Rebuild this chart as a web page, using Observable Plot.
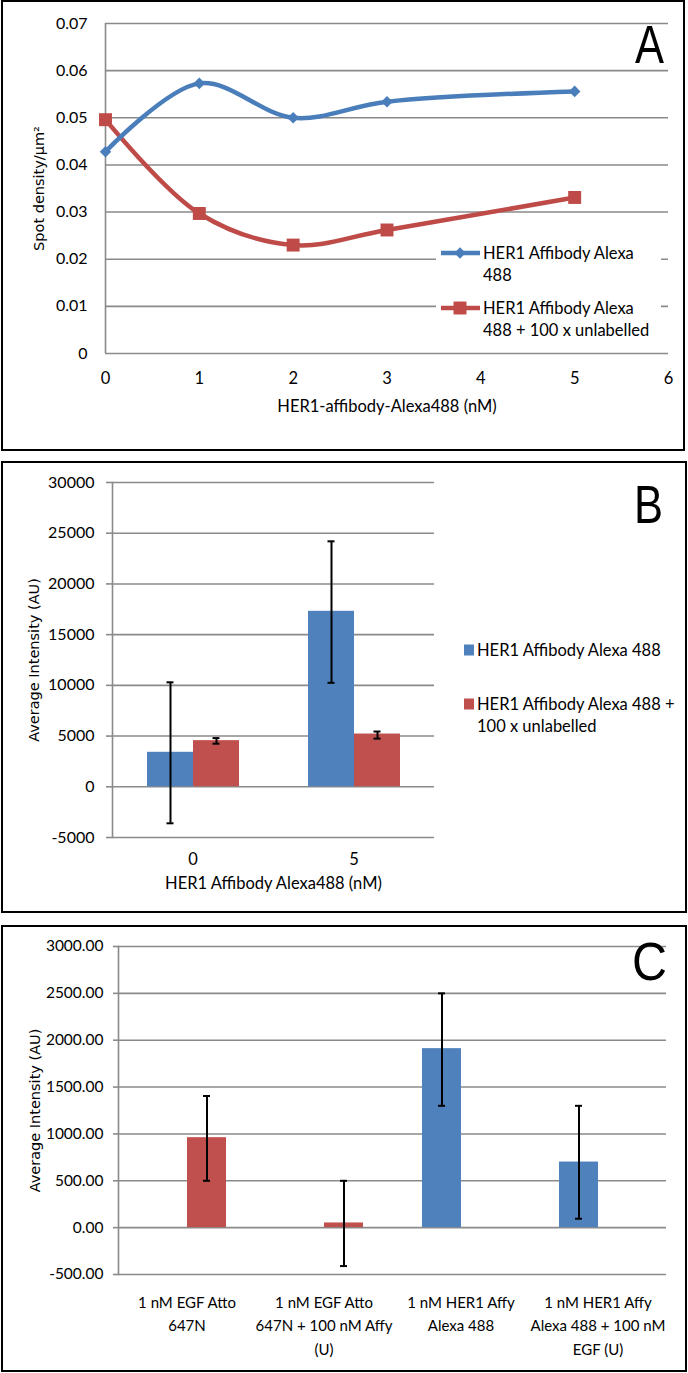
<!DOCTYPE html>
<html>
<head>
<meta charset="utf-8">
<script src="https://cdn.jsdelivr.net/npm/d3@7"></script>
<script src="https://cdn.jsdelivr.net/npm/@observablehq/plot@0.6"></script>
<style>
  html, body { margin: 0; padding: 0; background: #fff; }
  #page { position: relative; width: 688px; height: 1373px; overflow: hidden; font-family: Lato, sans-serif; }
  .plotwrap { position: absolute; left: 0; }
  #overlay { position: absolute; left: 0; top: 0; pointer-events: none; }
  g[aria-label="y-axis label"], g[aria-label="y-axis label"] text { font-family: "DejaVu Sans", sans-serif; font-size: 14.5px; }
</style>
</head>
<body>
<div id="page">
  <div class="plotwrap" id="pa" style="top:0px"></div>
  <div class="plotwrap" id="pb" style="top:462px"></div>
  <div class="plotwrap" id="pc" style="top:926px"></div>
  <svg id="overlay" width="688" height="1373"></svg>
</div>
<script>
// ---------- Panel A data ----------
const aConc = [0, 1, 2, 3, 5];
const aAlexa = [0.0428, 0.0573, 0.0500, 0.0534, 0.0556];
const aUnlab = [0.0496, 0.0297, 0.0230, 0.0262, 0.0331];
const aSeries = ["HER1 Affibody Alexa 488", "HER1 Affibody Alexa 488 + 100 x unlabelled"];
const aYTicks = [0, 0.01, 0.02, 0.03, 0.04, 0.05, 0.06, 0.07];
const aXTicks = [0, 1, 2, 3, 4, 5, 6];

// ---------- Panel B data ----------
const bConc = ["0", "5"];
const bSeries = ["HER1 Affibody Alexa 488", "HER1 Affibody Alexa 488 + 100 x unlabelled"];
const bAlexa = [3400, 17300];
const bAlexaLo = [-3600, 10250];
const bAlexaHi = [10300, 24200];
const bUnlab = [4550, 5200];
const bUnlabLo = [4250, 4750];
const bUnlabHi = [4800, 5450];
const bYTicks = [-5000, 0, 5000, 10000, 15000, 20000, 25000, 30000];

// ---------- Panel C data ----------
const cCats = ["1 nM EGF Atto\n647N", "1 nM EGF Atto\n647N + 100 nM Affy\n(U)", "1 nM HER1 Affy\nAlexa 488", "1 nM HER1 Affy\nAlexa 488 + 100 nM\nEGF (U)"];
const cSeriesNames = ["HER1 Affy Alexa 488", "EGF Atto 647N"];
const cSeries = ["EGF Atto 647N", "EGF Atto 647N", "HER1 Affy Alexa 488", "HER1 Affy Alexa 488"];
const cValues = [960, 50, 1910, 700];
const cLo = [500, -410, 1300, 95];
const cHi = [1405, 500, 2500, 1300];
const cYTicks = [-500, 0, 500, 1000, 1500, 2000, 2500, 3000];

const BLUE = "#4f81bd", RED = "#c0504d";
const LBLUE = "#4a7ebb", LRED = "#be4b48";
const GRID = "#8a8a8a";
const TICKFONT = "Lato";
const TITLEFONT = "DejaVu Sans";

// ---------- Panel A ----------
const aBlueRows = aConc.map((c, i) => ({conc: c, v: aAlexa[i], s: aSeries[0]}));
const aRedRows = aConc.map((c, i) => ({conc: c, v: aUnlab[i], s: aSeries[1]}));
const plotA = Plot.plot({
  width: 688, height: 450,
  marginTop: 23, marginBottom: 97, marginLeft: 105, marginRight: 20,
  style: {background: "transparent", color: "#000", fontFamily: TICKFONT},
  x: {domain: [0, 6]},
  y: {domain: [0, 0.07]},
  color: {domain: aSeries, range: [LBLUE, LRED]},
  marks: [
    Plot.ruleY(aYTicks, {stroke: GRID, strokeWidth: 1.6}),
    Plot.ruleX([0], {stroke: GRID, strokeWidth: 1.6}),
    Plot.axisY(aYTicks, {tickSize: 0, tickPadding: 18, fontSize: 16, label: null,
      tickFormat: d => d === 0 ? "0" : d.toFixed(2)}),
    Plot.axisY({ticks: [], tickSize: 0, label: "Spot density/µm²", labelAnchor: "center", labelArrow: "none", labelOffset: 72,
      fontSize: 14.5, fontFamily: TITLEFONT}),
    Plot.axisX(aXTicks, {tickSize: 0, tickPadding: 19, fontSize: 16.5,
      label: "HER1-affibody-Alexa488 (nM)", labelAnchor: "center", labelArrow: "none", labelOffset: 58, tickFormat: d => String(d)}),
    Plot.line(aRedRows, {x: "conc", y: "v", stroke: "s", curve: "catmull-rom", strokeWidth: 4.5}),
    Plot.line(aBlueRows, {x: "conc", y: "v", stroke: "s", curve: "catmull-rom", strokeWidth: 4.5}),
    Plot.dot(aRedRows, {x: "conc", y: "v", fill: "s", symbol: "square", r: 7.3, stroke: null}),
    Plot.dot(aBlueRows, {x: "conc", y: "v", fill: "s", symbol: "diamond2", r: 5.2, stroke: null})
  ]
});
document.getElementById("pa").append(plotA);

// ---------- Panel B ----------
const bRows = bConc.flatMap((c, i) => [
  {conc: c, s: bSeries[0], v: bAlexa[i], lo: bAlexaLo[i], hi: bAlexaHi[i]},
  {conc: c, s: bSeries[1], v: bUnlab[i], lo: bUnlabLo[i], hi: bUnlabHi[i]}
]);
const plotB = Plot.plot({
  width: 688, height: 450,
  marginTop: 20, marginBottom: 75, marginLeft: 112, marginRight: 254,
  style: {background: "transparent", color: "#000", fontFamily: TICKFONT},
  fx: {domain: bConc, padding: 0},
  x: {domain: bSeries, paddingInner: 0, paddingOuter: 0.75, axis: null},
  y: {domain: [-5000, 30000]},
  color: {domain: bSeries, range: [BLUE, RED]},
  marks: [
    Plot.ruleY(bYTicks, {stroke: GRID, strokeWidth: 1.6}),
    Plot.frame({anchor: "left", facetAnchor: "left", stroke: GRID, strokeWidth: 1.6}),
    Plot.axisY(bYTicks, {tickSize: 6, stroke: GRID, strokeWidth: 1.6, tickPadding: 12, fontSize: 16, label: null,
      tickFormat: d => String(d)}),
    Plot.axisY({ticks: [], tickSize: 0, label: "Average Intensity (AU)", labelAnchor: "center", labelArrow: "none", labelOffset: 84,
      fontSize: 14.5, fontFamily: TITLEFONT}),
    Plot.axisFx({anchor: "bottom", tickSize: 0, tickPadding: 16, fontSize: 16.5,
      label: "HER1 Affibody Alexa488 (nM)", labelAnchor: "center", labelArrow: "none", labelOffset: 51}),
    Plot.barY(bRows, {fx: "conc", x: "s", y: "v", fill: "s"}),
    Plot.ruleX(bRows, {fx: "conc", x: "s", y1: "lo", y2: "hi", stroke: "#000", strokeWidth: 2}),
    Plot.tickY(bRows, {fx: "conc", x: "s", y: "hi", stroke: "#000", strokeWidth: 2, insetLeft: 19.5, insetRight: 19.5}),
    Plot.tickY(bRows, {fx: "conc", x: "s", y: "lo", stroke: "#000", strokeWidth: 2, insetLeft: 19.5, insetRight: 19.5})
  ]
});
document.getElementById("pb").append(plotB);

// ---------- Panel C ----------
const cRows = cCats.map((c, i) => ({cat: c, s: cSeries[i], v: cValues[i], lo: cLo[i], hi: cHi[i]}));
const plotC = Plot.plot({
  width: 688, height: 446,
  marginTop: 20, marginBottom: 98, marginLeft: 116, marginRight: 21,
  style: {background: "transparent", color: "#000", fontFamily: TICKFONT},
  fx: {domain: cCats, padding: 0},
  x: {domain: cSeriesNames, paddingInner: 0, paddingOuter: 0.744, axis: null},
  y: {domain: [-500, 3000]},
  color: {domain: cSeriesNames, range: [BLUE, RED]},
  marks: [
    Plot.ruleY(cYTicks, {stroke: GRID, strokeWidth: 1.6}),
    Plot.frame({anchor: "left", facetAnchor: "left", stroke: GRID, strokeWidth: 1.6}),
    Plot.axisY(cYTicks, {tickSize: 5, stroke: GRID, strokeWidth: 1.6, tickPadding: 10, fontSize: 15.5, label: null,
      tickFormat: d => d.toFixed(2)}),
    Plot.axisY({ticks: [], tickSize: 0, label: "Average Intensity (AU)", labelAnchor: "center", labelArrow: "none", labelOffset: 89,
      fontSize: 14.5, fontFamily: TITLEFONT}),
    Plot.axisFx({anchor: "bottom", tickSize: 0, tickPadding: 17, fontSize: 15, lineHeight: 1.55, label: null}),
    Plot.barY(cRows, {fx: "cat", x: "s", y: "v", fill: "s"}),
    Plot.ruleX(cRows, {fx: "cat", x: "s", y1: "lo", y2: "hi", stroke: "#000", strokeWidth: 2}),
    Plot.tickY(cRows, {fx: "cat", x: "s", y: "hi", stroke: "#000", strokeWidth: 2, insetLeft: 16, insetRight: 16}),
    Plot.tickY(cRows, {fx: "cat", x: "s", y: "lo", stroke: "#000", strokeWidth: 2, insetLeft: 16, insetRight: 16})
  ]
});
document.getElementById("pc").append(plotC);

// ---------- Overlay: panel frames, panel letters, legends ----------
const ov = d3.select("#overlay");
const panels = [
  {x: 2, y: 1, w: 682, h: 449},
  {x: 2, y: 462, w: 684, h: 450},
  {x: 2, y: 926, w: 684, h: 445}
];
ov.selectAll("rect.panel").data(panels).join("rect").attr("class", "panel")
  .attr("x", d => d.x).attr("y", d => d.y).attr("width", d => d.w).attr("height", d => d.h)
  .attr("fill", "none").attr("stroke", "#000").attr("stroke-width", 2);

const letters = [{t: "A", x: 635, y: 63, w: 29}, {t: "B", x: 634, y: 523, w: 29}, {t: "C", x: 632, y: 980, w: 35}];
ov.selectAll("text.letter").data(letters).join("text").attr("class", "letter")
  .attr("x", d => d.x).attr("y", d => d.y).text(d => d.t)
  .attr("textLength", d => d.w).attr("lengthAdjust", "spacingAndGlyphs")
  .attr("font-family", "'Liberation Sans', sans-serif").attr("font-size", 53).attr("fill", "#000");

// Legend A
const la = ov.append("g");
la.append("rect").attr("x", 436).attr("y", 239).attr("width", 225).attr("height", 107).attr("fill", "#fff");
const laItems = [
  {y: 253, color: LBLUE, lines: ["HER1 Affibody Alexa", "488"], sym: "diamond"},
  {y: 308, color: LRED, lines: ["HER1 Affibody Alexa", "488 + 100 x unlabelled"], sym: "square"}
];
laItems.forEach(it => {
  la.append("line").attr("x1", 441).attr("x2", 480).attr("y1", it.y).attr("y2", it.y)
    .attr("stroke", it.color).attr("stroke-width", 4.5);
  const sym = it.sym === "diamond" ? d3.symbol(d3.symbolDiamond2, Math.PI * 5.2 * 5.2) : d3.symbol(d3.symbolSquare, Math.PI * 7.3 * 7.3);
  la.append("path").attr("d", sym()).attr("transform", `translate(460,${it.y})`).attr("fill", it.color);
  it.lines.forEach((ln, j) => {
    la.append("text").attr("x", 483).attr("y", it.y + j * 22).attr("dy", "0.36em")
      .attr("font-family", TICKFONT).attr("font-size", 16.5).attr("fill", "#000").text(ln);
  });
});

// Legend B
const lb = ov.append("g");
const lbItems = [
  {y: 650, color: BLUE, lines: ["HER1 Affibody Alexa 488"]},
  {y: 704, color: RED, lines: ["HER1 Affibody Alexa 488 +", "100 x unlabelled"]}
];
lbItems.forEach(it => {
  lb.append("rect").attr("x", 464).attr("y", it.y - 5.5).attr("width", 10).attr("height", 11).attr("fill", it.color);
  it.lines.forEach((ln, j) => {
    lb.append("text").attr("x", 477).attr("y", it.y + j * 22).attr("dy", "0.36em")
      .attr("font-family", TICKFONT).attr("font-size", 16.5).attr("fill", "#000").text(ln);
  });
});
</script>
</body>
</html>
